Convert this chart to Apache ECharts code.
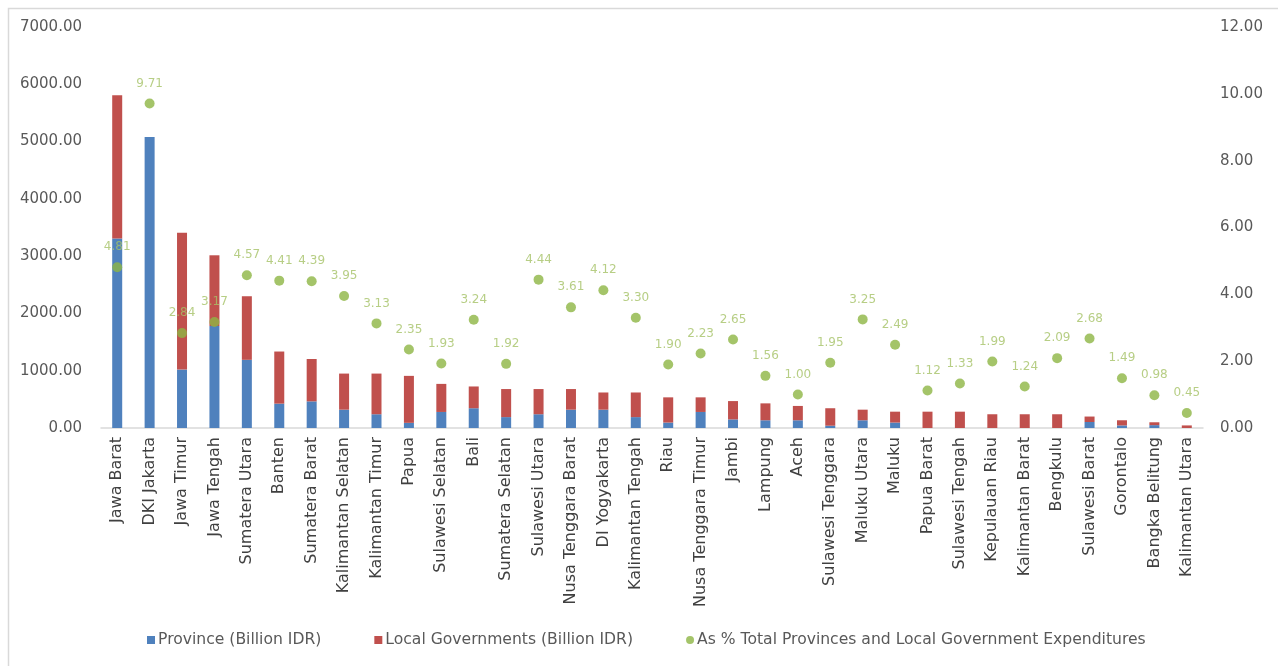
<!DOCTYPE html>
<html>
<head>
<meta charset="utf-8">
<script src="https://cdn.jsdelivr.net/npm/echarts@6/dist/echarts.min.js"></script>
<style>
  html, body { margin: 0; padding: 0; background: #ffffff; }
  #chart { width: 1278px; height: 666px; }
</style>
</head>
<body>
<div id="chart"></div>
<script>
// Regional expenditure by province (billion IDR) and share of total expenditure (%)
const categories = [
  'Jawa Barat', 'DKI Jakarta', 'Jawa Timur', 'Jawa Tengah', 'Sumatera Utara', 'Banten',
  'Sumatera Barat', 'Kalimantan Selatan', 'Kalimantan Timur', 'Papua', 'Sulawesi Selatan',
  'Bali', 'Sumatera Selatan', 'Sulawesi Utara', 'Nusa Tenggara Barat', 'DI Yogyakarta',
  'Kalimantan Tengah', 'Riau', 'Nusa Tenggara Timur', 'Jambi', 'Lampung', 'Aceh',
  'Sulawesi Tenggara', 'Maluku Utara', 'Maluku', 'Papua Barat', 'Sulawesi Tengah',
  'Kepulauan Riau', 'Kalimantan Barat', 'Bengkulu', 'Sulawesi Barat', 'Gorontalo',
  'Bangka Belitung', 'Kalimantan Utara'
];

const provinceSpending = [
  3310, 5080, 1020, 1780, 1190, 425, 465, 320, 240, 90, 280, 345, 190, 240, 320, 320,
  190, 95, 280, 150, 135, 135, 40, 135, 95, 0, 0, 0, 0, 0, 105, 45, 50, 0
];

const localSpending = [
  2500, 0, 2390, 1235, 1110, 910, 740, 630, 710, 820, 490, 380, 490, 440, 360, 300,
  430, 440, 255, 320, 295, 250, 305, 185, 190, 285, 285, 240, 240, 240, 95, 90, 50, 45
];

const shareOfTotal = [
  4.81, 9.71, 2.84, 3.17, 4.57, 4.41, 4.39, 3.95, 3.13, 2.35, 1.93, 3.24, 1.92, 4.44,
  3.61, 4.12, 3.30, 1.90, 2.23, 2.65, 1.56, 1.00, 1.95, 3.25, 2.49, 1.12, 1.33, 1.99,
  1.24, 2.09, 2.68, 1.49, 0.98, 0.45
];

const seriesNames = [
  'Province (Billion IDR)',
  'Local Governments (Billion IDR)',
  'As % Total Provinces and Local Government Expenditures'
];

const FONT = 'DejaVu Sans';
const chart = echarts.init(document.getElementById('chart'), null, { renderer: 'canvas' });

chart.setOption({
  backgroundColor: '#ffffff',
  animation: false,
  textStyle: { fontFamily: FONT },
  graphic: [{
    type: 'rect',
    left: 6, top: 6,
    shape: { x: 0.5, y: 0.5, width: 1290, height: 680 },
    style: { fill: 'none', stroke: '#d9d9d9', lineWidth: 1.5 },
    silent: true
  }],
  grid: { left: 101, right: 75, top: 27, bottom: 238, containLabel: false },
  legend: {
    left: 142, top: 627,
    itemWidth: 8, itemHeight: 8, itemGap: 53,
    textStyle: { fontFamily: FONT, fontSize: 15.6, color: '#595959', padding: [0, 0, 0, -2] },
    data: [
      { name: seriesNames[0], icon: 'rect' },
      { name: seriesNames[1], icon: 'rect' },
      { name: seriesNames[2], icon: 'circle' }
    ]
  },
  xAxis: {
    type: 'category',
    data: categories,
    axisLine: { lineStyle: { color: '#d9d9d9', width: 1.5 } },
    axisTick: { show: false },
    axisLabel: {
      interval: 0, rotate: 90, margin: 9,
      fontFamily: FONT, fontSize: 16, color: '#404040'
    }
  },
  yAxis: [{
    type: 'value', min: 0, max: 7000, interval: 1000,
    axisLine: { show: false }, axisTick: { show: false },
    splitLine: { show: false },
    axisLabel: {
      margin: 19, fontFamily: FONT, fontSize: 15, color: '#595959',
      formatter: v => v.toFixed(2)
    }
  }, {
    type: 'value', min: 0, max: 12, interval: 2,
    axisLine: { show: false }, axisTick: { show: false },
    splitLine: { show: false },
    axisLabel: {
      margin: 17, fontFamily: FONT, fontSize: 15, color: '#595959',
      formatter: v => v.toFixed(2)
    }
  }],
  series: [{
    name: seriesNames[0], type: 'bar', stack: 'spend',
    data: provinceSpending, barWidth: 10,
    itemStyle: { color: '#4f81bd' }
  }, {
    name: seriesNames[1], type: 'bar', stack: 'spend',
    data: localSpending, barWidth: 10,
    itemStyle: { color: '#c0504d' }
  }, {
    name: seriesNames[2], type: 'scatter', yAxisIndex: 1,
    data: shareOfTotal, symbol: 'circle', symbolSize: 10,
    itemStyle: { color: '#8db544' },
    label: {
      show: true, position: 'top', distance: 9,
      fontFamily: FONT, fontSize: 12, color: '#a5c266',
      formatter: p => p.value.toFixed(2)
    },
    z: 5
  }]
});
</script>
</body>
</html>
